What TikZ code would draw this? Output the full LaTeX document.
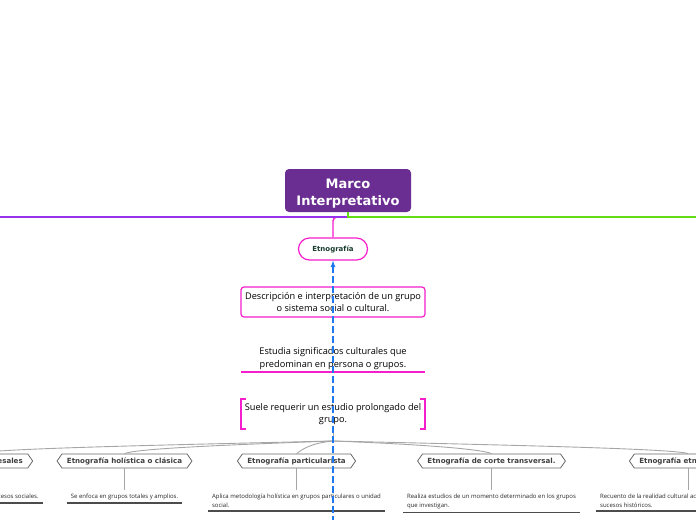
\documentclass[tikz,border=0pt]{standalone}
\usepackage{fontspec}
\setmainfont{Open Sans}
\newfontfamily\labelfont{DejaVu Sans}
\usepackage{xcolor}
\definecolor{ROOTCOLOR}{RGB}{106,45,145}
\definecolor{LEFTCOLOR}{RGB}{150,50,235}
\definecolor{RIGHTCOLOR}{RGB}{100,220,20}
\definecolor{PINKCOLOR}{RGB}{245,30,205}
\definecolor{TOPICTEXT}{RGB}{25,60,45}
\definecolor{DASHCOLOR}{RGB}{30,120,240}
\colorlet{CHILDCOLOR}{black!60}
\colorlet{LINKCOLOR}{black!35}
\colorlet{RULECOLOR}{black!70}
\usetikzlibrary{shapes,arrows,positioning,calc}
\tikzset{
  root-style/.style = {
    rectangle, rounded corners=4pt,
    fill=ROOTCOLOR, text=white,
    font=\labelfont\bfseries\fontsize{13}{17}\selectfont,
    align=center,
    minimum width=126pt,
    minimum height=43pt
  },
  topic-style/.style = {
    rectangle, rounded corners=11pt, draw=PINKCOLOR, line width=1.2pt,
    fill=white, text=TOPICTEXT,
    font=\labelfont\bfseries\fontsize{7}{8}\selectfont,
    minimum width=69pt,
    minimum height=22pt
  },
  note-style/.style = {
    align=center,
    font=\fontsize{9.2}{12.5}\selectfont,
    minimum width=184pt,
    minimum height=30pt,
    inner sep=2pt
  },
  box-style/.style = {
    note-style, rectangle, rounded corners=3pt,
    draw=PINKCOLOR, line width=1.2pt
  },
  child-style/.style = {
    signal, signal to=west and east, signal pointer angle=110,
    draw=CHILDCOLOR, line width=0.8pt, fill=white, text=black!75,
    font=\labelfont\bfseries\fontsize{7.1}{8}\selectfont,
    minimum height=14pt,
    inner xsep=5pt, inner ysep=1pt
  },
  desc-style/.style = {
    align=left, text=black!85,
    font=\fontsize{6}{9.5}\selectfont,
    inner xsep=4pt, inner ysep=3pt,
    below=22pt of #1, anchor=north
  },
  pink-line/.style = {draw=PINKCOLOR, line width=1.4pt},
  link-style/.style = {draw=LINKCOLOR, line width=0.9pt},
  rule-style/.style = {draw=RULECOLOR, line width=1.5pt}
}

\begin{document}
\begin{tikzpicture}[x=1pt,y=-1pt]
    \useasboundingbox (0,0) rectangle (696,520);

    %%% pink marks of the notes
    \coordinate (studyL) at (241,372);
    \coordinate (studyR) at (425,372);
    \fill[PINKCOLOR] ([yshift=0.7pt]studyL) rectangle ([yshift=-0.7pt]studyR);
    \draw[pink-line] (246,399) -- (241,399) -- (241,429) -- (246,429);
    \draw[pink-line] (420,399) -- (425,399) -- (425,429) -- (420,429);

    %%% main topic
    \node[root-style] (root) at (348,190.5) {\rule{0pt}{15.5pt}Marco\\Interpretativo};
    \coordinate (hub) at (348,217);
    \coordinate (leftend) at (0,217);
    \coordinate (rightend) at (696,217);

    %%% subtopic and its notes
    \node[topic-style] (etno) at (333,249) {Etnografía};
    \node[box-style] (desc) at (333,302)
      {Descripción e interpretación de un grupo\\o sistema social o cultural.};
    \node[note-style] (study) at (333,358.5)
      {Estudia significados culturales que\\predominan en persona o grupos.};
    \node[note-style] (long) at (333,414)
      {Suele requerir un estudio prolongado del\\grupo.};
    \coordinate (fork) at (333,441);

    %%% kinds of ethnography
    \node[child-style] (c1) at (-23,461) {Etnografías procesales};
    \node[child-style] (c2) at (124.5,461) {Etnografía holística o clásica};
    \node[child-style] (c3) at (296.5,461) {Etnografía particularista};
    \node[child-style] (c4) at (491.5,461) {Etnografía de corte transversal.};
    \node[child-style] (c5) at (688,461) {Etnografía etnohistórica};

    \node[desc-style=c1,xshift=6pt] (d1) {Describe y explica los procesos sociales.};
    \node[desc-style=c2] (d2) {Se enfoca en grupos totales y amplios.};
    \node[desc-style=c3] (d3)
      {Aplica metodología holística en grupos particulares o unidad\\social.};
    \node[desc-style=c4] (d4)
      {Realiza estudios de un momento determinado en los grupos\\que investigan.};
    \node[desc-style=c5,xshift=-8pt] (d5)
      {Recuento de la realidad cultural actual como producto de\\sucesos históricos.};

    %%% branches
    \draw[pink-line,rounded corners=4pt] (etno.north) |- (hub);
    \draw[draw=LEFTCOLOR,line width=1.8pt] (hub) -- (leftend);
    \draw[draw=RIGHTCOLOR,line width=1.8pt] (root.south) -- (hub) -- (rightend);

    \draw[link-style] (long.south) -- (fork);
    \draw[link-style] (fork) .. controls +(-170,4) and +(14,-5) .. (c1.north);
    \draw[link-style] (fork) .. controls +(-110,4) and +(12,-5) .. (c2.north);
    \draw[link-style] (fork) .. controls +(-20,2) and +(8,-6) .. (c3.north);
    \draw[link-style] (fork) .. controls +(80,3) and +(-12,-5) .. (c4.north);
    \draw[link-style] (fork) .. controls +(170,4) and +(-14,-5) .. (c5.north);

    \foreach \k in {1,...,5} {
      \draw[link-style] (c\k.south) -- (c\k.south |- d\k.north);
      \draw[rule-style] (d\k.south west) -- (d\k.south east);
    }

    %%% dashed relation
    \coordinate (dashend) at (333,520);
    \draw[draw=DASHCOLOR, line width=1.2pt, dash pattern=on 7pt off 3pt, <-, >=latex] (etno.south) -- (dashend);
\end{tikzpicture}
\end{document}
